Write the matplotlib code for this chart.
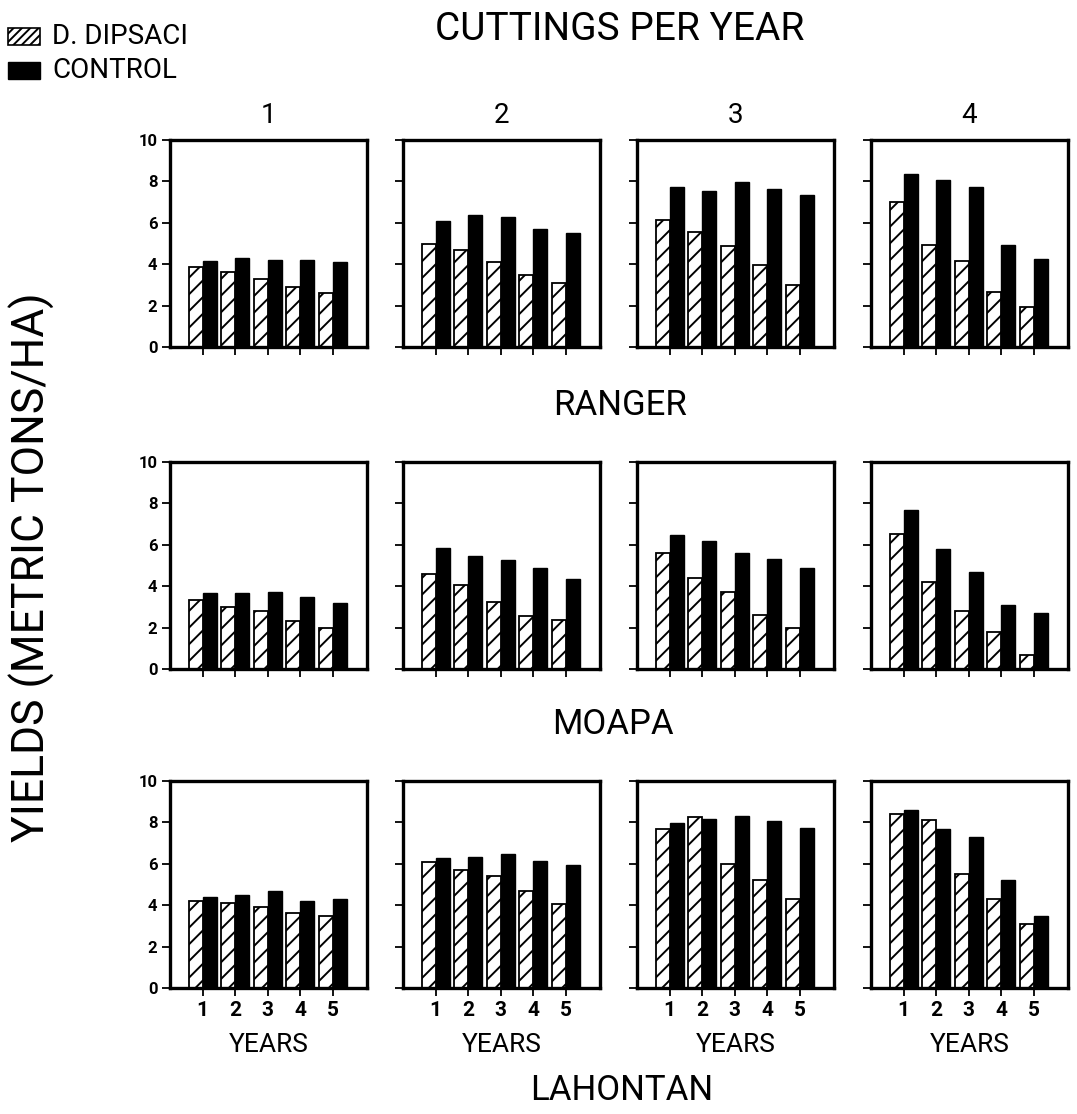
import matplotlib
matplotlib.use("Agg")
import matplotlib.pyplot as plt
from matplotlib.patches import Rectangle

plt.rcParams['font.family'] = ['Roboto', 'DejaVu Sans']
plt.rcParams['hatch.linewidth'] = 1.4

years = [1, 2, 3, 4, 5]
cuttings = ["1", "2", "3", "4"]
varieties = ["RANGER", "MOAPA", "LAHONTAN"]

ranger_dipsaci = [[3.85, 3.6, 3.3, 2.9, 2.6],
                  [5.0, 4.7, 4.1, 3.5, 3.1],
                  [6.15, 5.55, 4.9, 3.95, 3.0],
                  [7.0, 4.95, 4.15, 2.65, 1.95]]
ranger_control = [[4.15, 4.3, 4.2, 4.2, 4.1],
                  [6.1, 6.4, 6.3, 5.7, 5.5],
                  [7.75, 7.55, 7.95, 7.65, 7.35],
                  [8.35, 8.05, 7.75, 4.95, 4.25]]
moapa_dipsaci = [[3.35, 3.0, 2.8, 2.3, 2.0],
                 [4.6, 4.05, 3.25, 2.55, 2.35],
                 [5.6, 4.4, 3.7, 2.6, 2.0],
                 [6.5, 4.2, 2.8, 1.8, 0.7]]
moapa_control = [[3.65, 3.65, 3.7, 3.5, 3.2],
                 [5.85, 5.45, 5.25, 4.9, 4.35],
                 [6.45, 6.2, 5.6, 5.3, 4.9],
                 [7.7, 5.8, 4.7, 3.1, 2.7]]
lahontan_dipsaci = [[4.2, 4.1, 3.9, 3.6, 3.5],
                    [6.1, 5.7, 5.4, 4.7, 4.05],
                    [7.7, 8.25, 6.0, 5.2, 4.3],
                    [8.4, 8.1, 5.5, 4.3, 3.1]]
lahontan_control = [[4.4, 4.5, 4.7, 4.2, 4.3],
                    [6.3, 6.35, 6.45, 6.15, 5.95],
                    [7.95, 8.15, 8.3, 8.05, 7.75],
                    [8.6, 7.7, 7.3, 5.2, 3.5]]

dipsaci = [ranger_dipsaci, moapa_dipsaci, lahontan_dipsaci]
control = [ranger_control, moapa_control, lahontan_control]

W, H = 1077, 1114
fig = plt.figure(figsize=(W / 100, H / 100), dpi=100)

col_left = [170, 403, 637, 871]
col_w = 197
row_top = [140, 462, 781]
row_h = 207

bw = 0.43
for r in range(3):
    for c in range(4):
        l = col_left[c] / W
        b = 1 - (row_top[r] + row_h) / H
        ax = fig.add_axes([l, b, col_w / W, row_h / H])
        ax.bar(years, dipsaci[r][c], width=-bw, align='edge', color='white',
               edgecolor='black', hatch='//', linewidth=1.3)
        ax.bar(years, control[r][c], width=bw, align='edge', color='black',
               edgecolor='black', linewidth=1.0)
        ax.set_xlim(0, 6.05)
        ax.set_ylim(0, 10)
        ax.set_yticks([0, 2, 4, 6, 8, 10])
        ax.set_xticks(years)
        for s in ax.spines.values():
            s.set_linewidth(2.4)
        ax.tick_params(direction='out', length=6, width=1.3, pad=3)
        if c == 0:
            ax.set_yticklabels([str(v) for v in [0, 2, 4, 6, 8, 10]],
                               fontsize=12, fontweight='bold')
        else:
            ax.set_yticklabels([])
        if r == 2:
            ax.set_xticklabels([str(y) for y in years], fontsize=15, fontweight='bold')
            ax.set_xlabel("YEARS", fontsize=19, labelpad=10)
        else:
            ax.set_xticklabels([])
        if r == 0:
            ax.set_title(cuttings[c], fontsize=20, pad=12)

def fx(x):
    return x / W

def fy(y):
    return 1 - y / H

fig.text(fx(620), fy(30), "CUTTINGS PER YEAR", fontsize=28, ha='center', va='center')
fig.text(fx(620), fy(405), varieties[0], fontsize=25, ha='center', va='center')
fig.text(fx(613), fy(724), varieties[1], fontsize=25, ha='center', va='center')
fig.text(fx(622), fy(1090), varieties[2], fontsize=25, ha='center', va='center')
fig.text(fx(32), fy(567), "YIELDS (METRIC TONS/HA)", fontsize=32, rotation=90,
         ha='center', va='center')

# legend
fig.patches.append(Rectangle((fx(8), fy(45)), fx(32), 17 / H, transform=fig.transFigure,
                             facecolor='white', edgecolor='black', hatch='////', linewidth=1.2))
fig.patches.append(Rectangle((fx(8), fy(79)), fx(32), 17 / H, transform=fig.transFigure,
                             facecolor='black', edgecolor='black', linewidth=1.0))
fig.text(fx(52), fy(37), "D. DIPSACI", fontsize=20, ha='left', va='center')
fig.text(fx(52), fy(71), "CONTROL", fontsize=20, ha='left', va='center')

fig.savefig("out.png", dpi=100)
